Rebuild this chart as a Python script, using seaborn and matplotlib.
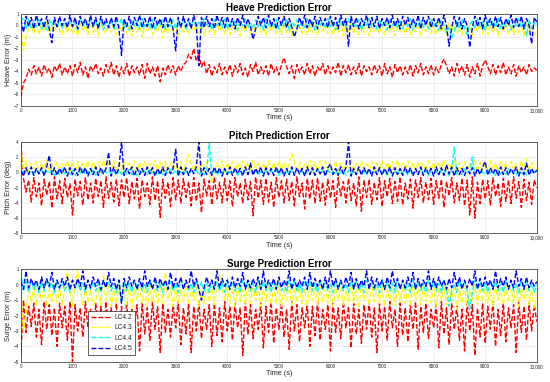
import numpy as np
import matplotlib.pyplot as plt
import seaborn as sns

sns.set_style("whitegrid")
plt.rcParams['font.family'] = ['Liberation Sans', 'DejaVu Sans']

# Load cases and MATLAB style colours
cases = ['LC4.2', 'LC4.3', 'LC4.4', 'LC4.5']
colors = ['#ff0000', '#ffff00', '#00ffff', '#0000ff']

# Heave prediction error (m), sampled every ~50 s (rows of 1000 s)
heave_lc42 = [-6.2, -5.0, -4.6, -3.8, -4.3, -3.5, -4.2, -3.6, -4.4, -3.4, -4.1, -3.7, -4.5, -3.5, -4.0, -3.3, -4.3, -3.6, -4.2, -3.5,
              -4.4, -3.4, -4.1, -3.2, -4.3, -3.6, -4.6, -3.5, -4.0, -3.3, -4.2, -3.7, -4.4, -3.4, -4.1, -3.2, -4.3, -3.5, -4.5, -3.6,
              -4.2, -3.3, -4.4, -3.5, -4.1, -3.6, -4.3, -3.4, -4.6, -3.3, -4.2, -3.6, -4.4, -3.5, -4.9, -3.7, -4.3, -3.4, -4.1, -3.5,
              -4.3, -3.5, -4.0, -3.4, -3.2, -2.5, -2.9, -2.0, -3.1, -2.4, -3.6, -3.1, -4.2, -3.4, -4.4, -3.6, -4.1, -3.3, -4.3, -3.6,
              -4.2, -3.4, -4.4, -3.5, -4.1, -3.3, -4.3, -3.7, -4.5, -3.4, -4.0, -3.2, -4.3, -3.6, -4.2, -3.5, -4.4, -3.3, -4.1, -3.6,
              -4.3, -3.4, -2.8, -3.6, -4.2, -3.5, -4.6, -3.4, -4.1, -3.6, -4.3, -3.3, -4.2, -3.5, -4.4, -3.6, -4.0, -3.3, -4.3, -3.5,
              -4.2, -3.6, -4.1, -3.2, -4.4, -3.5, -4.1, -3.4, -4.3, -3.6, -4.2, -3.3, -4.4, -3.5, -4.0, -3.6, -4.3, -3.4, -4.1, -3.5,
              -4.4, -3.3, -4.2, -3.6, -4.5, -3.4, -4.1, -3.5, -4.3, -3.6, -4.2, -3.4, -4.4, -3.5, -4.1, -3.3, -4.3, -3.6, -4.2, -3.4,
              -4.3, -3.6, -4.1, -3.4, -2.9, -3.5, -4.2, -3.6, -4.4, -3.3, -4.1, -3.5, -4.3, -3.4, -4.5, -3.6, -4.2, -3.3, -4.4, -3.5,
              -3.0, -3.6, -4.2, -3.4, -4.3, -3.5, -4.1, -3.2, -4.3, -3.6, -4.2, -3.4, -4.4, -3.5, -4.1, -3.6, -4.3, -3.4, -4.0, -3.7, -3.9]
heave_lc43 = [-0.2, -2.2, -1.0, -0.3, 0.2, -0.7, 0.1, -0.8, 0.2, -0.5, 0.3, -0.9, 0.0, -0.6, 0.2, -0.4, -0.8, 0.1, -0.6, 0.2,
              -0.7, 0.1, -0.9, 0.2, -0.5, 0.0, -0.8, 0.2, -0.6, 0.1, -0.9, 0.2, -0.4, -0.7, 0.1, -0.6, 0.2, -0.8, 0.0, -0.5,
              0.2, -0.7, 0.1, -0.9, 0.0, -0.6, 0.2, -1.0, 0.1, -0.5, 0.2, -0.8, 0.0, -0.6, 0.2, -1.1, 0.1, -0.7, 0.2, -0.5,
              0.1, -0.9, 0.2, -0.6, 0.0, -0.8, 0.2, -0.5, 0.1, -0.7, 0.2, -0.9, 0.0, -0.6, 0.1, -0.8, 0.2, -0.5, 0.0, -0.7,
              0.2, -0.8, 0.1, -0.6, 0.2, -0.9, 0.0, -0.5, 0.2, -0.7, 0.1, -0.8, 0.2, -0.6, 0.0, -0.9, 0.1, -0.5, 0.2, -0.7,
              0.0, -0.8, 0.2, -0.6, 0.1, -0.9, 0.2, -0.5, 0.0, -0.7, 0.2, -0.8, 0.1, -0.6, 0.2, -0.9, 0.0, -0.5, 0.1, -0.7,
              0.2, -0.8, 0.0, -0.6, 0.2, -0.9, 0.1, -0.5, 0.2, -0.7, 0.0, -0.8, 0.2, -0.6, 0.1, -0.9, 0.2, -0.5, 0.0, -0.7,
              0.1, -0.8, 0.2, -0.6, 0.0, -0.9, 0.2, -0.5, 0.1, -0.7, 0.2, -0.8, 0.0, -0.6, 0.2, -0.9, 0.1, -0.5, 0.2, -0.7,
              0.0, -0.8, 0.2, -0.6, 0.1, -0.9, 0.2, -0.5, 0.0, -0.7, 0.2, -0.8, 0.1, -0.6, 0.2, -0.9, 0.0, -0.5, 0.1, -0.7,
              0.2, -0.8, 0.0, -0.6, 0.2, -0.9, 0.1, -0.5, 0.2, -0.7, 0.0, -0.8, 0.2, -0.6, 0.1, -0.9, 0.2, -0.5, 0.0, -1.0, -0.3]
heave_lc44 = [0.8, 0.4, -0.3, 0.5, -0.2, 0.4, -0.1, 0.6, -0.3, 0.3, -0.4, 0.5, 0.0, 0.4, -0.2, 0.6, -0.3, 0.3, -0.1, 0.5,
              -0.2, 0.4, -0.4, 0.6, 0.0, 0.3, -0.3, 0.5, -0.1, 0.4, -0.2, 0.6, -0.4, 0.3, 0.0, 0.5, -0.3, 0.4, -0.1, 0.6,
              -0.2, 0.3, -0.4, 0.5, 0.0, 0.4, -0.3, 0.6, -0.1, 0.3, -0.2, 0.5, -0.4, 0.4, 0.0, 0.6, -0.3, 0.3, -0.1, 0.5,
              -0.3, 0.4, -0.1, 0.6, -0.4, 0.3, 0.0, 0.5, -0.2, 0.4, -0.3, 0.6, -0.1, 0.3, -0.4, 0.5, 0.0, 0.4, -0.2, 0.6,
              -0.3, 0.3, -0.1, 0.5, -0.4, 0.4, 0.0, 0.6, -0.2, 0.3, -0.3, 0.5, -0.1, 0.4, -0.4, 0.6, 0.0, 0.3, -0.2, 0.5,
              -0.3, 0.4, -0.1, 0.6, -0.4, 0.3, 0.0, 0.5, -0.2, 0.4, -0.3, 0.6, -0.1, 0.3, -0.4, 0.5, 0.0, 0.4, -0.2, 0.6,
              -0.1, 0.3, -0.4, 0.5, 0.0, 0.4, -0.2, 0.6, -0.3, 0.3, -0.1, 0.5, -0.4, 0.4, 0.0, 0.6, -0.2, 0.3, -0.3, 0.5,
              -0.1, 0.4, -0.4, 0.6, 0.0, 0.3, -0.2, 0.5, -0.3, 0.4, -0.1, 0.6, -0.4, 0.3, 0.0, 0.5, -0.2, 0.4, -0.3, 0.6,
              -0.1, 0.3, -0.4, 0.5, 0.0, -0.6, -0.2, -1.1, -0.5, 0.4, -0.3, 0.5, -0.2, -0.8, 0.1, 0.4, -0.3, 0.6, -0.1, 0.3,
              -0.4, 0.5, 0.0, 0.4, -0.2, 0.6, -0.3, 0.3, -0.1, 0.5, -0.4, 0.4, 0.0, 0.6, -0.2, 0.3, -0.9, 0.5, -0.3, 0.2, 0.1]
heave_lc45 = [0.5, -0.6, 0.8, -0.1, 0.7, -0.3, 0.9, 0.0, 0.6, -0.2, 0.8, -0.3, -1.5, 0.7, -0.1, 0.8, 0.0, 0.6, -0.2, 0.9,
              -0.1, 0.7, -0.3, 0.8, 0.0, 0.6, -0.2, 0.9, -0.1, 0.7, -0.3, 0.8, 0.0, 0.6, -0.2, 0.7, -0.1, 0.8, -0.3, -2.6,
              0.6, -0.1, 0.8, -0.3, 0.7, 0.0, 0.9, -0.2, 0.6, -0.1, 0.8, -0.3, 0.7, 0.0, 0.6, -0.2, 0.8, -0.1, 0.7, -0.3,
              -2.2, 0.7, -0.2, 0.8, -0.1, 0.6, -0.3, 0.9, 0.0, -3.5, 0.7, -0.2, 0.8, -0.1, 0.6, -0.3, 0.9, 0.0, 0.7, -0.2,
              0.8, -0.1, 0.6, -0.3, 0.7, 0.0, 0.9, -0.2, 0.6, -0.1, -1.2, -0.3, 0.8, 0.0, 0.7, -0.2, 0.9, -0.1, 0.6, -0.3,
              0.7, 0.0, 0.8, -0.2, 0.6, -0.1, -1.0, -0.3, 0.7, 0.0, 0.9, -0.2, 0.6, -0.1, 0.8, -0.3, 0.7, 0.0, 0.6, -0.2,
              0.8, -0.1, 0.7, -0.3, 0.9, 0.0, 0.6, -1.8, 0.8, -0.1, 0.7, -0.3, 0.6, 0.0, 0.9, -0.2, 0.7, -0.1, 0.8, -0.3,
              0.6, 0.0, 0.7, -0.2, 0.9, -0.1, 0.6, -0.3, 0.8, 0.0, 0.7, -0.2, 0.6, -0.1, 0.9, -0.3, 0.7, 0.0, 0.8, -0.2,
              0.6, -0.1, 0.7, -0.3, 0.9, 0.0, -1.8, -0.2, 0.8, -0.1, 0.7, -0.3, 0.6, 0.0, -1.9, -0.2, 0.8, -0.1, 0.7, -0.3,
              0.9, 0.0, 0.6, -0.2, 0.8, -0.1, 0.7, -0.3, 0.6, 0.0, 0.9, -0.2, 0.7, -0.1, 0.8, -0.3, 0.6, 0.0, -1.6, 0.7, 0.3]

# Pitch prediction error (deg)
pitch_lc42 = [3.8, -0.8, -2.6, -1.0, -3.9, -0.7, -3.2, -1.4, -4.4, -0.9, -3.0, -1.2, -4.7, -0.6, -3.5, -1.1, -4.1, -0.8, -3.3, -1.5,
              -5.6, -0.9, -3.1, -1.2, -4.3, -0.7, -3.6, -1.4, -4.0, -0.8, -3.2, -1.1, -4.6, -0.6, -3.4, -1.3, -3.9, -0.9, -4.4, -1.0,
              -3.3, -0.7, -4.1, -1.2, -3.5, -0.8, -4.8, -1.0, -3.2, -1.4, -4.2, -0.6, -3.7, -1.1, -5.9, -0.9, -3.4, -1.3, -4.5, -0.7,
              -3.6, -1.0, -4.1, -0.8, -3.3, -1.2, -4.4, -0.7, -3.8, -1.4, -5.3, -0.9, -3.1, -1.1, -4.3, -0.6, -3.5, -1.3, -4.0, -0.8,
              -3.7, -1.1, -4.5, -0.7, -3.2, -1.4, -4.1, -0.9, -3.6, -1.2, -5.7, -0.6, -3.4, -1.0, -4.2, -0.8, -3.9, -1.3, -4.6, -0.7,
              -3.3, -1.1, -4.0, -0.9, -3.7, -1.2, -4.4, -0.6, -3.2, -1.4, -4.8, -0.8, -3.5, -1.0, -4.1, -0.7, -3.8, -1.3, -4.3, -0.9,
              -3.4, -1.1, -4.6, -0.7, -3.1, -1.2, -4.0, -0.8, -3.7, -1.4, -4.4, -0.6, -5.1, -1.0, -3.3, -0.9, -4.2, -1.3, -3.6, -0.7,
              -4.5, -1.1, -3.2, -0.8, -4.1, -1.2, -3.8, -0.6, -4.3, -1.4, -3.5, -0.9, -4.7, -1.0, -3.3, -0.7, -4.0, -1.3, -3.6, -0.8,
              -4.2, -1.1, -3.4, -0.9, -4.6, -1.2, -3.1, -0.7, -4.0, -1.4, -3.7, -0.8, -4.4, -1.0, -5.6, -0.6, -6.0, -1.3, -4.1, -0.9,
              -3.5, -1.1, -4.3, -0.7, -3.2, -1.4, -4.5, -0.8, -3.8, -1.0, -4.1, -0.6, -3.4, -1.2, -4.6, -0.9, -3.7, -1.3, -4.2, -1.0, -2.0]
pitch_lc43 = [3.0, 0.2, 1.5, 0.1, 1.2, 0.4, 1.4, 0.0, 1.3, 0.3, 1.6, 0.1, 1.2, 0.2, 1.4, 0.0, 1.1, 0.3, 1.5, 0.1,
              1.3, 0.2, 1.4, 0.0, 1.2, 0.3, 1.5, 0.1, 1.3, 0.2, 1.4, 0.0, 1.6, 0.3, 1.2, 0.1, 1.5, 0.2, 1.3, 0.0,
              1.4, 0.3, 1.2, 0.1, 1.5, 0.2, 1.3, 0.0, 1.4, 0.3, 1.2, 0.1, 1.6, 0.2, 1.3, 0.0, 1.4, 0.3, 1.2, 0.1,
              1.5, 0.2, 1.3, 0.0, 1.4, 2.3, 1.2, 0.1, 1.5, 0.2, 1.3, 0.0, 1.4, -0.4, -1.3, 0.1, 1.2, 0.3, 1.5, 0.0,
              1.3, 0.2, 1.4, 0.1, 1.2, 0.3, 1.5, 0.0, 1.3, 0.2, 1.6, 0.1, 1.4, 0.3, 1.2, 0.0, 1.5, 0.2, 1.3, 0.1,
              1.4, 0.3, 1.2, 0.0, 1.5, 2.4, 1.3, 0.1, 1.4, 0.2, 1.2, 0.3, 1.6, 0.0, 1.3, 0.1, 1.5, 0.2, 1.4, 0.3,
              1.2, 0.0, 1.5, 0.1, 1.3, 0.2, 1.4, 0.3, 1.6, 0.0, 1.2, 0.1, 1.5, 0.2, 1.3, 0.3, 1.4, 0.0, 1.2, 0.1,
              1.5, 0.2, 1.3, 0.3, 1.4, 0.0, 1.6, 0.1, 1.2, 0.2, 1.5, 0.3, 1.3, 0.0, 1.4, 0.1, 1.2, 0.2, 1.5, 0.3,
              1.3, 0.0, 1.4, 0.1, 1.6, 0.2, 1.2, 0.3, 1.5, 0.0, 1.3, 0.1, 1.4, 0.2, 1.2, 0.3, 1.5, 0.0, 1.3, 0.1,
              1.4, 0.2, 1.6, 0.3, 1.2, 0.0, 1.5, 0.1, 1.3, 0.2, 1.4, 0.3, 1.2, 0.0, 1.5, 0.1, 1.8, 0.2, 1.3, 0.1, 0.6]
pitch_lc44 = [0.5, -0.3, 0.3, -0.2, 0.2, -0.4, 0.3, -0.1, 0.4, -0.3, 0.2, -0.2, 0.3, -0.4, 0.1, -0.3, 0.4, -0.2, 0.2, -0.3,
              0.3, -0.4, 0.2, -0.1, 0.4, -0.3, 0.1, -0.2, 0.3, -0.4, 0.2, -0.3, 0.4, -0.1, 0.3, -0.2, 0.1, -0.4, 0.3, -0.3,
              0.2, -0.2, 0.4, -0.3, 0.1, -0.4, 0.3, -0.1, 0.2, -0.3, 0.4, -0.2, 0.1, -0.4, 0.3, -0.3, 0.2, -0.1, 0.4, -0.2,
              0.3, -0.4, 0.1, -0.3, 0.2, -0.2, 0.4, -0.1, 0.3, -0.4, 0.2, -0.3, 0.1, 3.8, -0.2, 0.3, -0.4, 0.2, -0.1, 0.4,
              -0.3, 0.1, -0.2, 0.3, -0.4, 0.2, -0.3, 0.4, -0.1, 0.2, -0.2, 0.3, -0.4, 0.1, -0.3, 0.4, -0.2, 0.2, -0.1, 0.3,
              -0.4, 0.2, -0.3, 0.1, -0.2, 0.4, -0.3, 0.3, -0.1, 0.2, -0.4, 0.1, -0.2, 0.3, -0.3, 0.4, -0.1, 0.2, -0.4, 0.3,
              -0.2, 0.1, -0.3, 0.4, -0.1, 0.2, -0.4, 0.3, -0.2, 0.1, -0.3, 0.4, -0.1, 0.2, -0.4, 0.3, -0.2, 0.1, -0.3, 0.4,
              -0.1, 0.2, -0.4, 0.3, -0.2, 0.1, -0.3, 0.4, -0.1, 0.2, -0.4, 0.3, -0.2, 0.1, -0.3, 0.4, -0.1, 0.2, -0.4, 0.3,
              -0.2, 0.1, -0.3, 0.4, -0.1, 0.2, -0.4, 0.3, 3.3, -0.2, 0.1, -0.3, 0.4, -0.1, 0.2, 2.0, -0.4, 0.3, -0.2, 0.1,
              -0.3, 0.4, -0.1, 0.2, -0.4, 0.3, -0.2, 0.1, -0.3, 0.4, -0.1, 0.2, -0.4, 0.3, -0.2, 0.1, -0.3, 0.4, -0.1, 0.2, 0.1]
pitch_lc45 = [0.2, -0.5, 0.6, -0.3, 0.7, -0.4, 0.5, -0.2, 0.6, -0.5, 0.7, 2.2, -0.3, 0.6, -0.4, 0.5, -0.2, 0.7, -0.5, 0.6,
              -0.3, 0.5, -0.4, 0.7, -0.2, 0.6, -0.5, 0.5, -0.3, 0.7, -0.4, 0.6, -0.2, 0.5, 2.6, -0.5, 0.7, -0.3, 0.6, 4.0,
              -0.4, 0.5, -0.2, 0.7, -0.5, 0.6, -0.3, 0.5, -0.4, 0.7, -0.2, 0.6, -0.5, 0.5, -0.3, 0.7, -0.4, 0.6, -0.2, 0.5,
              3.0, -0.5, 0.7, -0.3, 0.6, -0.4, 0.5, -0.2, 0.7, 4.0, -0.5, 0.6, -0.3, 0.5, -0.4, 0.7, -0.2, 0.6, -0.5, 0.5,
              -0.3, 0.7, -0.4, 0.6, -0.2, 0.5, -0.5, 0.7, -0.3, 1.2, -0.4, 0.5, -0.2, 0.7, -0.5, 0.6, -0.3, 0.5, -0.4, 0.7,
              -0.2, 0.6, -0.5, 0.5, -0.3, 0.7, -0.4, 0.6, -0.2, 0.5, -0.5, 0.7, -0.3, 0.6, -0.4, 0.5, -0.2, 0.7, -0.5, 0.6,
              1.1, -0.3, 0.5, -0.4, 0.7, -0.2, 0.6, 4.0, -0.5, 0.5, -0.3, 0.7, -0.4, 0.6, -0.2, 0.5, -0.5, 0.7, -0.3, 0.6,
              -0.4, 0.5, -0.2, 0.7, -0.5, 0.6, -0.3, 0.5, -0.4, 0.7, -0.2, 0.6, -0.5, 0.5, -0.3, 0.7, -0.4, 0.6, -0.2, 0.5,
              -0.5, 0.7, -0.3, 0.6, -0.4, 1.0, -0.2, 0.7, -0.5, 0.6, -0.3, 0.5, -0.4, 0.7, -0.2, 0.6, -0.5, 0.5, -0.3, 0.7,
              1.4, -0.4, 0.6, -0.2, 0.5, -0.5, 0.7, -0.3, 0.6, -0.4, 0.5, -0.2, 0.7, -0.5, 0.6, -0.3, 1.2, -0.4, 0.5, -0.2, 0.3]

# Surge prediction error (m)
surge_lc42 = [-4.5, -1.0, -3.1, -1.4, -2.7, -1.2, -3.4, -1.6, -3.9, -1.1, -2.9, -1.3, -3.3, -1.5, -4.0, -1.2, -2.8, -1.4, -3.6, -1.1,
              -5.0, -1.3, -3.0, -1.5, -3.4, -1.1, -2.8, -1.6, -4.2, -1.2, -3.1, -1.4, -3.7, -1.1, -2.9, -1.5, -3.3, -1.2, -4.1, -1.4,
              -3.0, -1.1, -3.5, -1.6, -2.8, -1.3, -4.3, -1.2, -3.2, -1.5, -3.6, -1.1, -2.9, -1.4, -4.4, -1.2, -3.1, -1.6, -3.4, -1.3,
              -2.8, -1.1, -3.9, -1.5, -3.2, -1.2, -4.4, -1.4, -3.0, -1.1, -3.5, -1.6, -2.9, -1.3, -4.0, -1.2, -3.3, -1.5, -3.7, -1.1,
              -3.0, -1.4, -3.6, -1.2, -2.8, -1.5, -4.6, -1.1, -3.2, -1.3, -3.5, -1.6, -2.9, -1.2, -4.1, -1.4, -3.1, -1.1, -3.8, -1.5,
              -2.9, -1.2, -3.4, -1.6, -4.2, -1.1, -3.0, -1.3, -3.7, -1.5, -2.8, -1.2, -4.0, -1.4, -3.3, -1.1, -3.6, -1.6, -2.9, -1.3,
              -4.3, -1.2, -3.1, -1.5, -3.5, -1.1, -2.8, -1.4, -4.1, -1.2, -3.2, -1.6, -3.8, -1.3, -2.9, -1.1, -3.4, -1.5, -4.4, -1.2,
              -3.0, -1.4, -3.6, -1.1, -2.8, -1.6, -4.0, -1.2, -3.3, -1.5, -3.7, -1.3, -2.9, -1.1, -4.2, -1.4, -3.1, -1.2, -3.5, -1.6,
              -2.8, -1.3, -4.1, -1.1, -3.2, -1.5, -3.9, -1.2, -2.9, -1.4, -3.6, -1.6, -4.3, -1.1, -3.0, -1.3, -4.6, -1.5, -3.4, -1.2,
              -3.8, -1.4, -2.9, -1.1, -4.0, -1.6, -3.3, -1.2, -3.7, -1.5, -2.8, -1.3, -4.4, -1.1, -3.1, -1.4, -3.6, -1.2, -3.0, -1.3, -2.4]
surge_lc43 = [-0.5, -3.0, -1.8, -0.2, -1.2, 0.0, -1.3, -0.2, -1.0, -0.1, -1.4, -0.3, -1.1, 0.0, -1.2, -0.2, -1.3, -0.1, 0.9, -0.3,
              -1.4, 0.0, 1.0, -0.2, -1.3, -0.1, -1.2, -0.3, -1.3, -1.1, -0.2, -1.3, 0.7, -1.0, -0.1, -1.4, -0.3, -1.2, 0.0, -1.1,
              -0.2, -1.3, -0.1, -1.5, -0.3, -1.0, 0.0, -1.2, -0.2, -1.4, -0.1, -1.1, -0.3, -1.3, 0.0, -1.2, 0.8, -1.0, -0.2, -1.4,
              -0.1, -1.2, -0.3, -1.1, 0.0, -1.3, -0.2, -1.0, -0.1, -1.4, -0.3, -1.2, 0.0, -1.1, -0.2, -1.3, -0.1, 0.7, -0.3, -1.0,
              0.0, -1.2, -0.2, -1.4, -0.1, -1.1, -0.3, -1.3, 0.0, -1.2, -0.2, -1.0, -0.1, -1.4, -0.3, -1.1, 0.0, -1.3, -0.2, -1.2,
              -0.1, -1.4, -0.3, -1.0, 0.0, -1.3, -0.2, -1.1, -0.1, -1.2, -0.3, -1.4, 0.0, -1.0, -0.2, -1.3, -0.1, -1.1, -0.3, -1.2,
              0.0, -1.4, -0.2, -1.0, -0.1, -1.3, -0.3, -1.1, 0.0, -1.2, -0.2, -1.5, -0.1, -1.0, -0.3, -1.3, 0.0, -1.1, -0.2, -1.2,
              -0.1, -1.4, -0.3, -1.0, 0.0, -1.3, -0.2, -1.1, -0.1, -1.2, -0.3, -1.4, 0.0, -1.0, -0.2, -1.3, -0.1, -1.1, -0.3, -1.2,
              0.0, -1.4, -0.2, -1.0, -0.1, -1.3, -0.3, -1.1, 0.0, -1.6, -0.2, -1.2, -0.1, -1.4, -0.3, -1.0, 0.0, -1.3, -0.2, -1.1,
              -0.1, -1.2, -0.3, -1.4, 0.0, -1.0, -0.2, -1.3, -0.1, -1.1, -0.3, -1.2, 0.0, -1.4, -0.2, -1.0, -0.1, -1.3, -0.3, -1.5, -0.8]
surge_lc44 = [0.9, -0.4, 0.2, -0.5, 0.3, -0.3, 0.1, -0.5, 0.2, -0.4, 0.3, -0.2, 0.1, -0.5, 0.3, -0.3, 0.2, -0.4, 0.1, -0.5,
              0.3, -0.2, 0.2, -0.4, 0.1, -0.5, 0.3, -0.3, 0.2, -0.4, 0.1, -0.5, 0.3, -0.2, 0.2, -0.4, 0.1, -0.5, 0.3, -1.2,
              0.2, -0.4, 0.1, -0.5, 0.3, -0.3, 0.2, -0.4, 0.1, -0.5, 0.3, -0.2, 0.2, -0.4, 0.1, -0.5, 0.3, -0.3, 0.2, -0.4,
              0.1, -0.5, 0.3, -0.2, 0.2, -0.4, 0.1, -0.5, 0.3, -0.3, 0.2, -0.4, 0.1, -0.5, 0.3, -0.2, 0.2, -0.4, 0.1, -0.5,
              0.3, -0.3, 0.2, -0.4, 0.1, -0.5, 0.3, -0.2, 0.2, -0.4, 0.1, -0.5, 0.3, -0.3, 0.2, -0.4, 0.1, -0.5, 0.3, -0.2,
              0.2, -0.4, 0.1, -0.5, 0.3, -0.3, 0.2, -0.4, 0.1, -0.5, 0.3, -0.2, 0.2, -0.4, 0.1, -0.5, 0.3, -0.3, 0.2, -0.4,
              0.1, -0.5, 0.3, -0.2, 0.2, -0.4, 0.1, -0.5, 0.3, -0.3, 0.2, -0.4, 0.1, -0.5, 0.3, -0.2, 0.2, -0.4, 0.1, -0.5,
              0.3, -0.3, 0.2, -0.4, 0.1, -0.5, 0.3, -0.2, 0.2, -0.4, 0.1, -0.5, 0.3, -0.3, 0.2, -0.4, 0.1, -0.5, 0.3, -0.2,
              0.2, -0.4, 0.1, -0.5, 0.3, -0.3, -1.4, -0.4, 0.1, -0.5, 0.3, -0.2, 0.2, -0.4, -1.6, -0.5, 0.3, -0.3, 0.2, -0.4,
              0.1, -0.5, 0.3, -0.2, 0.2, -0.4, 0.1, -0.5, 0.3, -0.3, 0.2, -0.4, 0.1, -0.5, 0.3, -0.2, 0.2, -0.4, 0.1, -0.5, 0.0]
surge_lc45 = [0.2, -0.3, 0.9, -0.2, 0.4, -0.1, 0.3, -0.3, 0.5, -0.2, 0.4, -0.1, 0.8, -0.3, 0.3, -0.2, 0.4, -0.1, 0.5, -0.3,
              0.3, -0.2, 0.4, -0.1, 0.9, -0.3, 0.3, -0.2, 0.5, -0.1, 0.4, -0.3, 0.3, -0.2, 0.8, -0.1, 0.4, -0.3, 0.3, -1.2,
              0.4, -0.2, 0.5, -0.1, 0.3, -0.3, 0.4, -0.2, 0.9, -0.1, 0.3, -0.3, 0.5, -0.2, 0.4, -0.1, 0.3, -0.3, 0.8, -0.2,
              0.4, -0.1, 0.5, -0.3, 0.3, -0.2, 0.9, -0.1, 0.4, -0.3, -1.0, -0.2, 0.5, -0.1, 0.3, -0.3, 0.9, -0.2, 0.4, -0.1,
              0.3, -0.3, 0.5, -0.2, 0.4, -0.1, 0.8, -0.3, 0.3, -0.2, 0.4, -0.1, 0.5, -0.3, 0.9, -0.2, 0.3, -0.1, 0.4, -0.3,
              0.5, -0.2, 0.3, -0.1, 0.9, -0.3, 0.4, -0.2, 0.3, -0.1, 0.5, -0.3, 0.8, -0.2, 0.4, -0.1, 0.3, -0.3, 0.5, -0.2,
              0.9, -0.1, 0.4, -0.3, 0.3, -0.2, 0.5, -0.1, 0.8, -0.3, 0.4, -0.2, 0.3, -0.1, 0.9, -0.3, 0.5, -0.2, 0.4, -0.1,
              0.3, -0.3, 0.5, -0.2, 0.9, -0.1, 0.4, -0.3, 0.3, -0.2, 0.5, -0.1, 0.8, -0.3, 0.4, -0.2, 0.3, -0.1, 0.9, -0.3,
              0.4, -0.2, 0.5, -0.1, 0.3, -0.3, 0.4, -0.2, 0.8, -0.1, 0.5, -0.3, 0.3, -0.2, 0.4, -0.1, 0.9, -0.3, 0.4, -0.2,
              0.5, -0.1, 0.3, -0.3, 0.9, -0.2, 0.4, -0.1, 0.5, -0.3, 0.3, -0.2, 0.9, -0.1, 0.4, -0.3, 0.5, -0.2, 0.3, -0.1, 0.2]

x_ticks = list(range(0, 10001, 1000))
x_tick_labels = [str(v) for v in x_ticks[:-1]] + ['10,000']

panels = [
    ('Heave Prediction Error', 'Heave Error (m)', (-7, 1), list(range(-7, 2)),
     [heave_lc42, heave_lc43, heave_lc44, heave_lc45]),
    ('Pitch Prediction Error', 'Pitch Error (deg)', (-8, 4), list(range(-8, 5, 2)),
     [pitch_lc42, pitch_lc43, pitch_lc44, pitch_lc45]),
    ('Surge Prediction Error', 'Surge Error (m)', (-5, 1), list(range(-5, 2)),
     [surge_lc42, surge_lc43, surge_lc44, surge_lc45]),
]
# axes rectangles (left, bottom, width, height) in figure fraction
rects = [(0.038, 0.7225, 0.938, 0.241),
         (0.038, 0.389, 0.938, 0.240),
         (0.038, 0.053, 0.938, 0.242)]

fig = plt.figure(figsize=(5.5, 3.82), dpi=100)

for i, (title, ylabel, ylim, yticks, series) in enumerate(panels):
    ax = fig.add_axes(rects[i])
    for name, col, vals in zip(cases, colors, series):
        t = np.linspace(0, 10000, len(vals))
        sns.lineplot(x=t, y=vals, ax=ax, color=col, linewidth=1.0,
                     linestyle=(0, (3.5, 1.5)), label=name if i == 2 else None)
    ax.set_xlim(0, 10000)
    ax.set_ylim(*ylim)
    ax.set_xticks(x_ticks)
    ax.set_xticklabels(x_tick_labels)
    ax.set_yticks(yticks)
    ax.set_title(title, fontsize=7, fontweight='bold', color='black', pad=2)
    ax.set_xlabel('Time (s)', fontsize=5.2, labelpad=1)
    ax.set_ylabel(ylabel, fontsize=5.2, labelpad=1)
    ax.tick_params(axis='both', labelsize=3.3, direction='in', length=2,
                   width=0.4, color='#262626', labelcolor='#262626', pad=1.5)
    ax.grid(True, color='#e6e6e6', linewidth=0.5)
    for s in ax.spines.values():
        s.set_edgecolor('#262626')
        s.set_linewidth(0.5)
    if i == 2:
        ax.legend(loc='lower left', bbox_to_anchor=(0.13, 0.075), borderaxespad=0,
                  fontsize=4.8, frameon=True, fancybox=False, edgecolor='#262626',
                  framealpha=1, handlelength=3, handletextpad=0.6, labelspacing=0.5,
                  borderpad=0.4)
        ax.get_legend().get_frame().set_linewidth(0.5)
    elif ax.get_legend() is not None:
        ax.get_legend().remove()

fig.savefig('out.png', dpi=100)
